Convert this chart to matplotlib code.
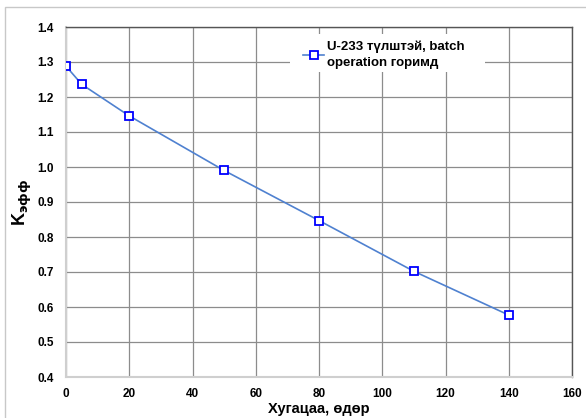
import matplotlib
matplotlib.use("Agg")
import matplotlib.pyplot as plt
from matplotlib.patches import Rectangle

days = [0, 5, 20, 50, 80, 110, 140]
keff = [1.288, 1.236, 1.146, 0.990, 0.847, 0.702, 0.577]
series_label = "U-233 түлштэй, batch\noperation горимд"
x_label = "Хугацаа, өдөр"
x_ticks = [0, 20, 40, 60, 80, 100, 120, 140, 160]
y_ticks = [0.4, 0.5, 0.6, 0.7, 0.8, 0.9, 1.0, 1.1, 1.2, 1.3, 1.4]

plt.rcParams['font.family'] = ['Liberation Sans', 'DejaVu Sans']

fig = plt.figure(figsize=(5.86, 4.18), dpi=100)
fig.patches.append(Rectangle((5/586, -0.01), 1.0, 1 - 7/418 + 0.01, transform=fig.transFigure,
                             fill=False, edgecolor='#c8c8c8', linewidth=1.0))
ax = fig.add_axes([66/586, 1 - 377/418, (572 - 66)/586, (377 - 27)/418])

ax.plot(days, keff, color='#4f81d0', linewidth=1.2, marker='s', markersize=5.5,
        markerfacecolor='white', markeredgecolor='#0000ff', markeredgewidth=1.3,
        label=series_label, zorder=3)

ax.set_xlim(0, 160)
ax.set_ylim(0.4, 1.4)
ax.set_xticks(x_ticks)
ax.set_yticks(y_ticks)
ax.set_xticklabels([str(t) for t in x_ticks], fontsize=8.5, fontweight='bold')
ax.set_yticklabels([f"{t:.1f}" for t in y_ticks], fontsize=8.5, fontweight='bold')
ax.tick_params(axis='x', length=0, pad=8)
ax.tick_params(axis='y', length=0, pad=9)
ax.grid(True, color='#8c8c8c', linewidth=0.9)
ax.set_axisbelow(True)

for s in ['top', 'right']:
    ax.spines[s].set_color('#555555')
    ax.spines[s].set_linewidth(1.0)
for s in ['left', 'bottom']:
    ax.spines[s].set_color('#cfcfcf')
    ax.spines[s].set_linewidth(1.5)

ax.set_xlabel(x_label, fontsize=10.5, fontweight='bold', labelpad=1)
ax.set_ylabel(r"K$_{\mathbf{эфф}}$", fontsize=13, fontweight='bold', labelpad=2)

# white legend background box (Excel-style, wider than text)
ax.add_patch(Rectangle((0.443, 0.871), 0.385, 0.109, transform=ax.transAxes,
                       facecolor='white', edgecolor='none', zorder=2))

leg = ax.legend(loc='upper left', bbox_to_anchor=(0.445, 0.995), frameon=False,
                prop={'weight': 'bold', 'size': 9.5}, handlelength=1.6,
                handletextpad=0.2, borderpad=0.4, labelspacing=0.2)
leg.set_zorder(5)
for t in leg.get_texts():
    t.set_linespacing(1.45)

fig.savefig("out.png", dpi=100)
